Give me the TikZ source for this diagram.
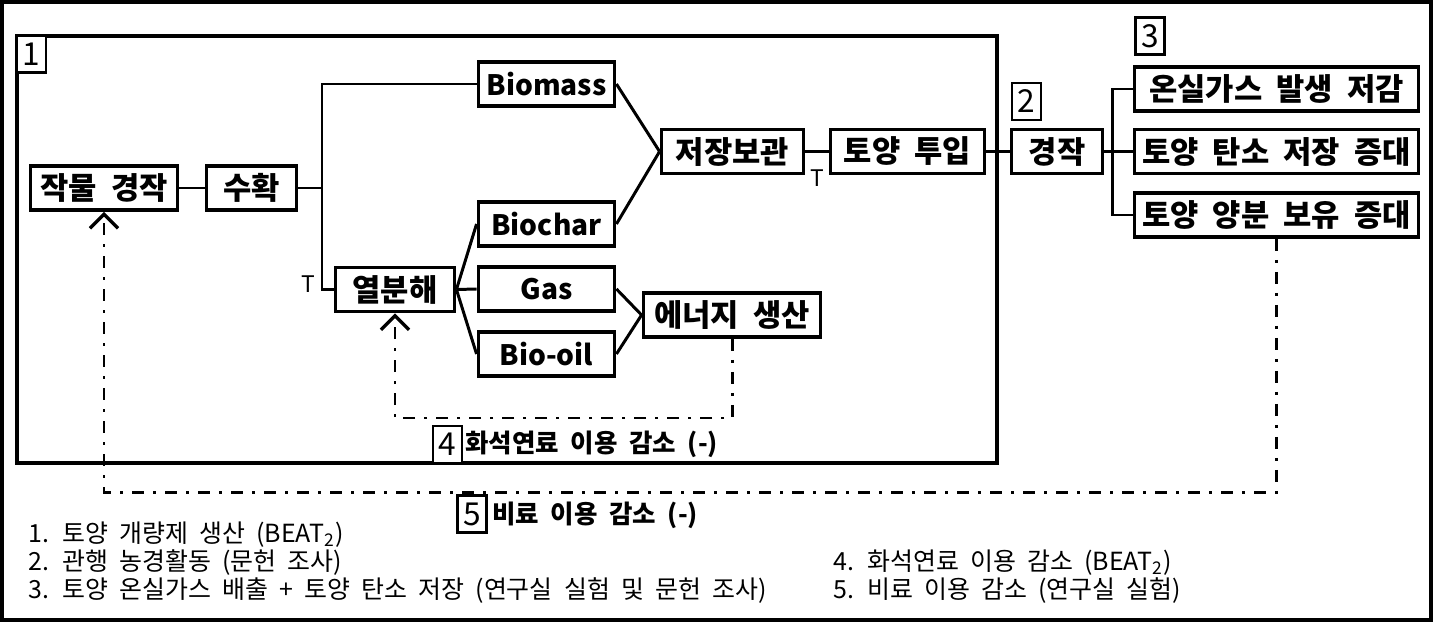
\documentclass[tikz,border=0pt]{standalone}
\usepackage{fontspec}
\setmainfont{Noto Sans CJK KR}[WordSpace=2]
\usetikzlibrary{arrows.meta}

\begin{document}
\begin{tikzpicture}[
      x=0.02cm, y=-0.02cm,
      object/.style={draw,line width=2.2pt,inner sep=0pt,minimum height=0.88cm,font=\fontsize{17.5}{19}\selectfont\bfseries},
      latin/.style={font=\fontsize{16}{18}\selectfont\bfseries},
      wd/.style={minimum width=#1*0.02cm},
      tag/.style={draw,line width=1.6pt,fill=white,inner sep=0pt,minimum width=0.58cm,minimum height=0.74cm,font=\fontsize{18}{19}\selectfont},
      link/.style={line width=1.7pt},
      reduce/.style={line width=1.7pt,dash pattern=on 0.24cm off 0.18cm on 0.06cm off 0.18cm,-{Straight Barb[length=8pt,width=16pt,line width=1.9pt]}},
      gain/.style={anchor=west,inner sep=0pt,font=\fontsize{14.5}{16}\selectfont\bfseries},
      note/.style={anchor=west,inner sep=0pt,font=\fontsize{14.2}{16}\selectfont},
      tmark/.style={inner sep=0pt,font=\fontsize{13}{14}\selectfont},
      ]
    \useasboundingbox (0,0) rectangle (1433,622);

    % Frames
    \draw[line width=2.3pt] (2,2) rectangle (1431,620);
    \draw[line width=2.3pt] (17,36) rectangle (997,463);

    % Position the nodes
    \node[object,wd=147] (crop) at (104,188) {작물 경작};
    \node[object,wd=90] (harvest) at (251.5,188) {수확};
    \node[object,latin,wd=136] (biomass) at (546.5,84) {Biomass};
    \node[object,wd=119] (pyro) at (395,289.5) {열분해};
    \node[object,latin,wd=136] (biochar) at (546.5,224) {Biochar};
    \node[object,latin,wd=136] (gas) at (546.5,289) {Gas};
    \node[object,latin,wd=136] (biooil) at (546.5,354) {Bio-oil};
    \node[object,wd=142] (storage) at (732.5,151.5) {저장보관};
    \node[object,wd=177] (energy) at (732,315) {에너지 생산};
    \node[object,wd=154] (soil) at (907.5,151.5) {토양 투입};
    \node[object,wd=91] (cult) at (1057,151.5) {경작};
    \node[object,wd=284] (ghg) at (1276.5,89) {온실가스 발생 저감};
    \node[object,wd=284] (carbon) at (1276.5,151.5) {토양 탄소 저장 증대};
    \node[object,wd=284] (nutri) at (1276.5,215) {토양 양분 보유 증대};

    \coordinate (split) at (322,188);
    \coordinate (fan) at (1112,151.5);
    \coordinate (fuelback) at (0,418);
    \coordinate (fertback) at (0,492);

    % Draw the links
    \draw[link] (crop) -- (harvest);
    \draw[link] (harvest) -- (split);
    \draw[link] (biomass.west) -| (split) |- (pyro.west);
    \draw[link] (pyro.east) -- (biochar.west);
    \draw[link] (pyro.east) -- (gas.west);
    \draw[link] (pyro.east) -- (biooil.west);
    \draw[link] (biomass.east) -- (storage.west);
    \draw[link] (biochar.east) -- (storage.west);
    \draw[link] (gas.east) -- (energy.west);
    \draw[link] (biooil.east) -- (energy.west);
    \draw[link] (storage) -- (soil);
    \draw[link] (soil) -- (cult);
    \draw[link] (cult) -- (fan);
    \draw[link] (ghg.west) -| (fan) |- (nutri.west);
    \draw[link] (fan) -- (carbon);

    % Reduction loops
    \draw[reduce] (energy.south) |- (fuelback -| pyro.south) -- (pyro.south);
    \draw[reduce] (nutri.south) |- (fertback -| crop.south) -- (crop.south);

    % Tags and labels
    \node[tag] (t1) at (31.5,54) {1};
    \node[tag] (t2) at (1026.5,101.5) {2};
    \node[tag] (t3) at (1150,36) {3};
    \node[tag] (t4) at (447.5,444.5) {4};
    \node[tag] (t5) at (472,514) {5};
    \node[gain] (fuel) at (465,444) {화석연료 이용 감소 (-)};
    \node[gain] (fert) at (492,515) {비료 이용 감소 (-)};
    \node[tmark] (tpyro) at (308,284) {T};
    \node[tmark] (tsoil) at (817,178) {T};

    % Legend
    \node[note] (n1) at (28,535) {1. 토양 개량제 생산 (BEAT\textsubscript{2})};
    \node[note] (n2) at (28,563) {2. 관행 농경활동 (문헌 조사)};
    \node[note] (n3) at (28,591) {3. 토양 온실가스 배출 + 토양 탄소 저장 (연구실 실험 및 문헌 조사)};
    \node[note] (n4) at (833,563) {4. 화석연료 이용 감소 (BEAT\textsubscript{2})};
    \node[note] (n5) at (833,591) {5. 비료 이용 감소 (연구실 실험)};

  \end{tikzpicture}
\end{document}
